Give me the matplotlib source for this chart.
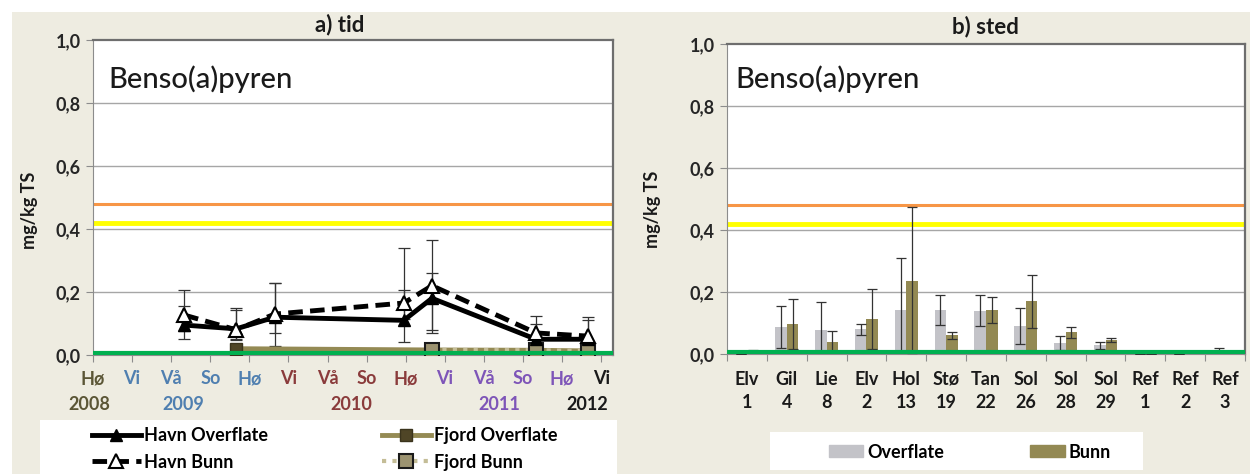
import matplotlib
matplotlib.use("Agg")
import matplotlib.pyplot as plt
from matplotlib.patches import Rectangle
from matplotlib.lines import Line2D
from matplotlib.patches import Patch
import numpy as np

plt.rcParams["font.family"] = ["Lato", "DejaVu Sans"]
plt.rcParams["font.weight"] = "bold"

# ---- data: a) tid ----
season_labels = ["Hø", "Vi", "Vå", "So", "Hø", "Vi", "Vå", "So",
                 "Hø", "Vi", "Vå", "So", "Hø", "Vi"]
season_colors = ["#5b5636"] + ["#4f7fb0"] * 4 + ["#8a3b3b"] * 4 + ["#7e55b8"] * 4 + ["#1a1a1a"]
year_labels = ["2008", "2009", "2010", "2011", "2012"]
year_pos = [-0.1, 2.3, 6.6, 10.4, 12.65]
year_colors = ["#5b5636", "#4f7fb0", "#8a3b3b", "#7e55b8", "#1a1a1a"]

havn_t = [2.33, 3.66, 4.65, 7.95, 8.67, 11.33, 12.66]
havn_over = [0.095, 0.083, 0.12, 0.11, 0.18, 0.05, 0.05]
havn_over_lo = [0.045, 0.035, 0.09, 0.07, 0.10, 0.03, 0.04]
havn_over_hi = [0.06, 0.06, 0.11, 0.23, 0.08, 0.05, 0.06]
havn_bunn = [0.127, 0.08, 0.13, 0.165, 0.22, 0.07, 0.06]
havn_bunn_lo = [0.05, 0.03, 0.06, 0.05, 0.15, 0.04, 0.05]
havn_bunn_hi = [0.08, 0.07, 0.10, 0.04, 0.145, 0.055, 0.06]

fjord_over_t = [3.66, 8.67, 11.33, 12.66]
fjord_over = [0.02, 0.016, 0.015, 0.013]
fjord_bunn_t = [8.67, 11.33, 12.66]
fjord_bunn = [0.016, 0.015, 0.013]

# ---- data: b) sted ----
stations = ["Elv\n1", "Gil\n4", "Lie\n8", "Elv\n2", "Hol\n13", "Stø\n19", "Tan\n22",
            "Sol\n26", "Sol\n28", "Sol\n29", "Ref\n1", "Ref\n2", "Ref\n3"]
st_over = [0.0, 0.087, 0.077, 0.08, 0.142, 0.142, 0.139, 0.09, 0.035, 0.028, 0.0, 0.0, 0.005]
st_over_err = [0.0, 0.068, 0.091, 0.018, 0.168, 0.047, 0.05, 0.058, 0.022, 0.011, 0.0, 0.0, 0.014]
st_bunn = [0.01, 0.097, 0.04, 0.113, 0.235, 0.06, 0.142, 0.17, 0.07, 0.045, 0.0, 0.008, 0.008]
st_bunn_err = [0.003, 0.08, 0.034, 0.097, 0.239, 0.011, 0.042, 0.085, 0.018, 0.006, 0.0, 0.002, 0.002]

# class limits
green_lim = 0.005
yellow_lim = 0.42
orange_lim = 0.48

FS = 13
BEIGE = "#eeece1"
fig = plt.figure(figsize=(12.5, 4.74), dpi=100)
fig.patch.set_facecolor("white")
fig.patches.append(Rectangle((12 / 1250, 0), 1 - 12 / 1250, 1 - 12 / 474,
                             transform=fig.transFigure, facecolor=BEIGE,
                             edgecolor="none", zorder=-10))
# legend boxes
fig.patches.append(Rectangle((40 / 1250, 0), 577 / 1250, 54 / 474,
                             transform=fig.transFigure, facecolor="white",
                             edgecolor="none", zorder=-5))
fig.patches.append(Rectangle((770 / 1250, 4 / 474), 373 / 1250, 38 / 474,
                             transform=fig.transFigure, facecolor="white",
                             edgecolor="none", zorder=-5))

ax1 = fig.add_axes([93 / 1250, 1 - 355 / 474, 520 / 1250, 315 / 474])
ax2 = fig.add_axes([727 / 1250, 1 - 354 / 474, 518 / 1250, 310 / 474])


def style_axes(ax):
    ax.set_facecolor("white")
    ax.set_ylim(0, 1.0)
    ax.set_yticks(np.arange(0, 1.01, 0.2))
    ax.set_yticklabels([f"{v:.1f}".replace(".", ",") for v in np.arange(0, 1.01, 0.2)],
                       fontsize=FS, fontweight="bold", color="#262626")
    for y in [0.2, 0.4, 0.6, 0.8]:
        ax.axhline(y, color="#a6a6a6", lw=1, zorder=0)
    for s in ["left", "bottom"]:
        ax.spines[s].set_color("#8c8c8c")
    for s in ["top", "right"]:
        ax.spines[s].set_color("#6e6e6e")
        ax.spines[s].set_linewidth(1.6)
    ax.tick_params(axis="y", length=5, color="#8c8c8c", pad=4)
    ax.tick_params(axis="x", which="major", length=5, color="#8c8c8c")
    ax.axhline(orange_lim, color="#f79646", lw=2.2, zorder=1)
    ax.axhline(yellow_lim, color="#ffff00", lw=3.5, zorder=1)
    ax.axhline(green_lim, color="#00b050", lw=3, zorder=6)
    ax.set_ylabel("mg/kg TS", fontsize=FS, fontweight="bold", color="#1a1a1a")


# ---- a) tid ----
style_axes(ax1)
ax1.yaxis.set_label_coords(-0.106, 0.46)
ax1.set_xlim(0, 13.3)
ax1.set_xticks(range(len(season_labels)))
ax1.set_xticklabels(season_labels, fontsize=FS, fontweight="bold")
ax1.tick_params(axis="x", pad=6)
for lab, c in zip(ax1.get_xticklabels(), season_colors):
    lab.set_color(c)
for lab, p, c in zip(year_labels, year_pos, year_colors):
    ax1.annotate(lab, (p, -0.156), xycoords=("data", "axes fraction"),
                 ha="center", va="center", fontsize=FS, fontweight="bold", color=c,
                 annotation_clip=False)

ax1.errorbar(havn_t, havn_over, yerr=[havn_over_lo, havn_over_hi], fmt="none",
             ecolor="#333333", elinewidth=0.9, capsize=4, capthick=0.9, zorder=3)
ax1.errorbar(havn_t, havn_bunn, yerr=[havn_bunn_lo, havn_bunn_hi], fmt="none",
             ecolor="#333333", elinewidth=0.9, capsize=4, capthick=0.9, zorder=3)
ax1.plot(fjord_over_t, fjord_over, color="#948a54", lw=3.5, marker="s", ms=9,
         mfc="#4f4526", mec="#3a331c", zorder=4)
ax1.plot(fjord_bunn_t, fjord_bunn, color="#c4bd97", lw=3, ls=(0, (1, 1.5)), marker="s",
         ms=10, mfc="#9c9370", mec="#1a1a1a", mew=1.5, zorder=5)
ax1.plot(havn_t, havn_over, color="black", lw=3.5, marker="^", ms=8, mfc="black",
         mec="black", zorder=7)
ax1.plot(havn_t, havn_bunn, color="black", lw=3.5, ls=(0, (3, 1.5)), marker="^", ms=10,
         mfc="white", mec="black", mew=1.5, zorder=8)

ax1.text(0.03, 0.876, "Benso(a)pyren", transform=ax1.transAxes, fontsize=21,
         fontweight="medium", color="#1a1a1a", va="center", ha="left")
fig.text(340 / 1250, 1 - 25 / 474, "a) tid", ha="center", va="center",
         fontsize=16, fontweight="bold", color="#1a1a1a")

h_ho = Line2D([], [], color="black", lw=3.5, marker="^", ms=8, mfc="black")
h_hb = Line2D([], [], color="black", lw=3.5, ls=(0, (3, 1.5)), marker="^", ms=10,
              mfc="white", mec="black", mew=1.5)
h_fo = Line2D([], [], color="#948a54", lw=3.5, marker="s", ms=9, mfc="#4f4526",
              mec="#3a331c")
h_fb = Line2D([], [], color="#c4bd97", lw=3, ls=(0, (1, 1.5)), marker="s", ms=10,
              mfc="#9c9370", mec="#1a1a1a", mew=1.5)
fig.legend([h_ho, h_hb, h_fo, h_fb],
           ["Havn Overflate", "Havn Bunn", "Fjord Overflate", "Fjord Bunn"],
           ncol=2, loc="center left", bbox_to_anchor=(92 / 1250, 1 - 449 / 474),
           frameon=False, prop={"size": FS, "weight": "bold"}, handlelength=2.7,
           handletextpad=0.2, columnspacing=6.3, labelspacing=0.5, borderpad=0,
           borderaxespad=0)

# ---- b) sted ----
style_axes(ax2)
ax2.yaxis.set_label_coords(-0.127, 0.468)
n = len(stations)
x = np.arange(n) + 0.5
w = 0.29
ax2.set_xlim(0, n)
ax2.set_xticks(range(n + 1))
ax2.set_xticklabels([])
ax2.set_xticks(x, minor=True)
ax2.set_xticklabels(stations, minor=True, fontsize=FS, fontweight="bold",
                    color="#1a1a1a", linespacing=1.45)
ax2.tick_params(axis="x", which="minor", length=0, pad=12)
ax2.bar(x - w / 2, st_over, width=w, color="#c3c3c8", zorder=2)
ax2.bar(x + w / 2, st_bunn, width=w, color="#938953", zorder=2)
ax2.errorbar(x - w / 2, st_over, yerr=st_over_err, fmt="none", ecolor="#333333",
             elinewidth=0.9, capsize=3.5, capthick=0.9, zorder=3)
ax2.errorbar(x + w / 2, st_bunn, yerr=st_bunn_err, fmt="none", ecolor="#333333",
             elinewidth=0.9, capsize=3.5, capthick=0.9, zorder=3)
ax2.text(0.016, 0.887, "Benso(a)pyren", transform=ax2.transAxes, fontsize=21,
         fontweight="medium", color="#1a1a1a", va="center", ha="left")
fig.text(985 / 1250, 1 - 27 / 474, "b) sted", ha="center", va="center",
         fontsize=16, fontweight="bold", color="#1a1a1a")

fig.legend([Patch(color="#c3c3c8"), Patch(color="#938953")], ["Overflate", "Bunn"],
           ncol=2, loc="center left", bbox_to_anchor=(829 / 1250, 1 - 452 / 474),
           frameon=False, prop={"size": FS, "weight": "bold"}, handlelength=1.9,
           handleheight=0.6, handletextpad=0.2, columnspacing=4.8, borderpad=0,
           borderaxespad=0)

fig.savefig("out.png", dpi=100, facecolor=fig.get_facecolor())
